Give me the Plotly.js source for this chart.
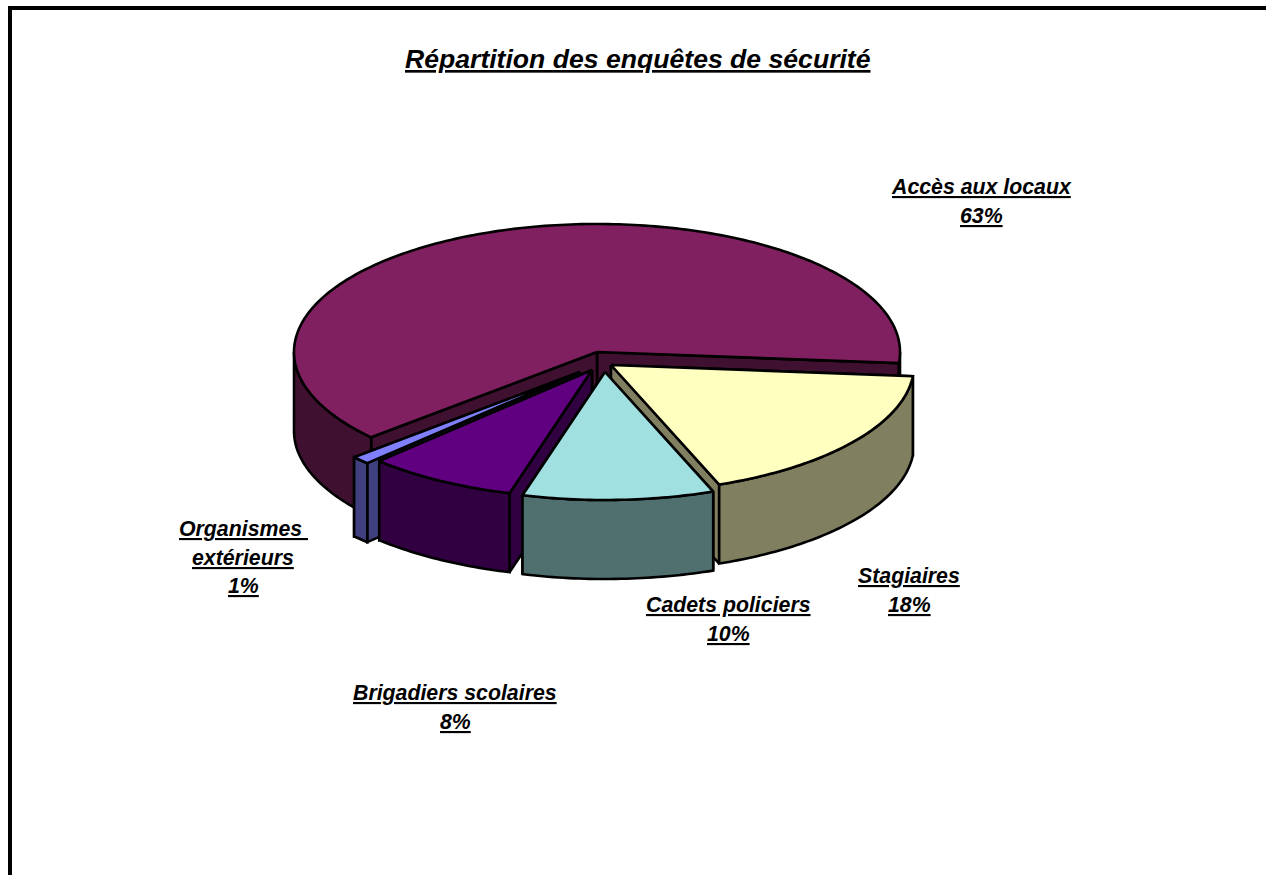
<!DOCTYPE html>
<html>
<head>
<meta charset="utf-8">
<script src="https://cdn.plot.ly/plotly-3.0.1.min.js"></script>
<style>html,body{margin:0;padding:0;background:#fff}#c{width:1266px;height:875px}</style>
</head>
<body>
<div id="c"></div>
<script>
// Data, in pie order (clockwise from the first cut)
const categories = ["Stagiaires", "Cadets policiers", "Brigadiers scolaires", "Organismes extérieurs", "Accès aux locaux"];
const values = [17.8, 10.2, 8, 1, 63];
const labelLines = [["Stagiaires"], ["Cadets policiers"], ["Brigadiers scolaires"], ["Organismes\u00a0", "extérieurs"], ["Accès aux locaux"]];

// Style
const topColors = ["#FFFFC0", "#A0E0E0", "#600080", "#8080FF", "#802060"];
const sideColors = ["#808060", "#507070", "#300040", "#404080", "#401030"];

// Layout of the projected pie
const pie = {cx: 597, cy: 352, rx: 303, ry: 128, depth: 79, startDeg: 5.0};
const explodeX = [14, 8, -5, -17, 0];
const explodeY = [13, 20, 18, 20, 0];
const labelX = [909, 728, 455, 243, 981];
const labelY = [576, 605, 693, 529, 187];
const lineStep = 28.7;
const paintOrder = [4, 0, 3, 2, 1];

const total = values.reduce((a, b) => a + b, 0);
const spans = values.map(v => v / total * 360);
const starts = [];
spans.reduce((acc, s, i) => { starts[i] = acc; return acc + s; }, pie.startDeg);

function pt(i, deg) {
  const r = deg * Math.PI / 180;
  return [pie.cx + explodeX[i] + pie.rx * Math.cos(r), pie.cy + explodeY[i] + pie.ry * Math.sin(r)];
}
function poly(pts, color) {
  const closed = pts.concat([pts[0]]);
  return {
    type: "scatter", mode: "lines", x: closed.map(p => p[0]), y: closed.map(p => p[1]),
    fill: "toself", fillcolor: color, line: {color: "#000", width: 2.6, simplify: false},
    hoverinfo: "skip", showlegend: false
  };
}
function arc(i, a, b) {
  const out = [], n = Math.max(2, Math.ceil(Math.abs(b - a)));
  for (let k = 0; k <= n; k++) out.push(pt(i, a + (b - a) * k / n));
  return out;
}
const down = p => [p[0], p[1] + pie.depth];

const traces = [];
paintOrder.forEach(i => {
  const a = starts[i], b = a + spans[i];
  const apex = [pie.cx + explodeX[i], pie.cy + explodeY[i]];
  // cut faces, farther one first
  [a, b].sort((p, q) => pt(i, p)[1] - pt(i, q)[1]).forEach(t => {
    const p = pt(i, t);
    traces.push(poly([apex, p, down(p), down(apex)], sideColors[i]));
  });
  // rim, front half only
  [[0, 180], [360, 540]].forEach(w => {
    const lo = Math.max(a, w[0]), hi = Math.min(b, w[1]);
    if (hi > lo) {
      const rim = arc(i, lo, hi);
      traces.push(poly(rim.concat(rim.slice().reverse().map(down)), sideColors[i]));
    }
  });
  // top
  traces.push(poly([apex].concat(arc(i, a, b)), topColors[i]));
});

const labelFont = {family: "Liberation Sans, Arial, sans-serif", size: 21.3, color: "#000", weight: 700, style: "italic", lineposition: "under"};
const annotations = [];
categories.forEach((c, i) => {
  const lines = labelLines[i].concat([Math.round(values[i] / total * 100) + "%"]);
  lines.forEach((t, k) => annotations.push({
    xref: "x", yref: "y", x: labelX[i], y: labelY[i] + k * lineStep, text: t,
    showarrow: false, xanchor: "center", yanchor: "middle", font: labelFont
  }));
});
annotations.push({
  xref: "x", yref: "y", x: 638, y: 59, text: "Répartition des enquêtes de sécurité",
  showarrow: false, xanchor: "center", yanchor: "middle",
  font: Object.assign({}, labelFont, {size: 26.6})
});

const layout = {
  width: 1266, height: 875, margin: {l: 0, r: 0, t: 0, b: 0},
  paper_bgcolor: "#fff", plot_bgcolor: "#fff",
  xaxis: {range: [0, 1266], visible: false, fixedrange: true},
  yaxis: {range: [875, 0], visible: false, fixedrange: true},
  annotations,
  shapes: [
    {type: "line", xref: "x", yref: "y", x0: 8, x1: 1266, y0: 8, y1: 8, line: {color: "#000", width: 4}},
    {type: "line", xref: "x", yref: "y", x0: 10, x1: 10, y0: 6, y1: 875, line: {color: "#000", width: 4}}
  ]
};
Plotly.newPlot("c", traces, layout, {displayModeBar: false, staticPlot: true});
</script>
</body>
</html>
